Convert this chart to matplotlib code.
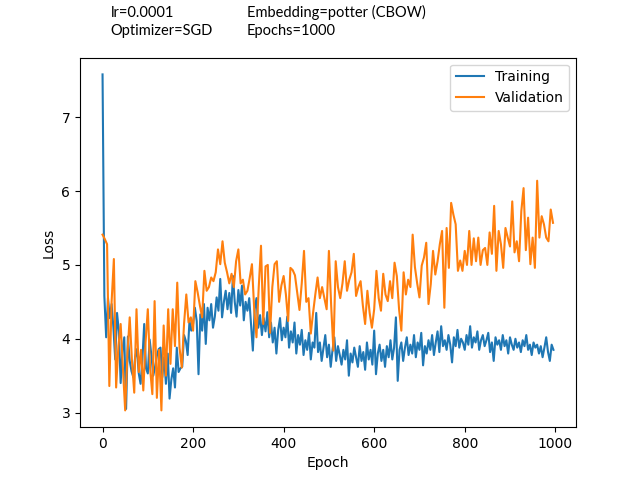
import numpy as np
import matplotlib
matplotlib.use("Agg")
import matplotlib.pyplot as plt

# ---- data ----
train_epochs = np.arange(0, 1000, 4)
train_loss = [
    7.58, 4.58, 4.02, 4.55, 4.28, 4.47, 4.15, 3.72, 4.35, 4.10,
    3.40, 3.85, 4.02, 3.05, 4.03, 3.70, 3.56, 3.48, 3.75, 3.86,
    3.53, 3.39, 3.72, 4.20, 3.60, 3.53, 3.99, 3.77, 3.50, 3.62,
    3.77, 3.86, 3.88, 3.48, 3.75, 3.39, 3.80, 3.19, 3.45, 3.60,
    3.34, 3.88, 3.55, 3.60, 3.62, 4.05, 3.97, 3.78, 4.24, 4.11,
    4.20, 4.42, 4.24, 3.52, 4.33, 4.11, 4.47, 3.93, 4.42, 4.25,
    4.47, 4.15, 4.30, 4.56, 4.38, 4.81, 4.29, 4.50, 4.65, 4.40,
    4.62, 4.35, 4.85, 4.50, 4.30, 4.66, 4.45, 4.72, 4.25, 4.50,
    4.38, 4.55, 4.20, 3.84, 4.40, 4.55, 4.15, 4.32, 4.05, 4.28,
    4.10, 4.36, 4.02, 4.22, 3.95, 4.15, 3.80, 4.12, 4.28, 3.98,
    4.15, 4.02, 4.30, 3.88, 4.10, 3.95, 4.22, 3.80, 4.05, 3.92,
    4.12, 3.78, 3.98, 3.85, 4.08, 3.72, 3.95, 3.88, 4.35, 3.82,
    3.95, 3.70, 3.88, 4.05, 3.75, 3.92, 3.62, 3.85, 4.02, 3.70,
    3.90, 3.78, 3.65, 3.85, 3.72, 3.98, 3.50, 3.80, 3.68, 3.88,
    3.75, 3.62, 3.90, 3.70, 3.82, 3.58, 3.95, 3.72, 3.85, 3.65,
    4.11, 3.52, 3.80, 3.92, 3.70, 3.85, 3.62, 3.90, 3.75, 3.98,
    3.72, 3.88, 4.29, 3.43, 3.85, 3.95, 3.70, 3.88, 4.02, 3.78,
    3.92, 3.80, 4.05, 3.75, 3.95, 3.85, 4.08, 3.64, 3.90, 3.80,
    3.98, 3.85, 4.05, 3.78, 3.95, 4.10, 3.82, 4.17, 3.90, 3.98,
    3.85, 4.05, 3.92, 3.68, 4.02, 3.90, 4.12, 3.88, 4.00, 3.95,
    3.85, 4.05, 3.92, 4.17, 3.88, 4.02, 3.95, 4.10, 3.85, 3.98,
    4.05, 3.90, 3.98, 4.08, 3.82, 3.95, 3.70, 4.02, 3.92, 3.98,
    3.85, 4.05, 3.90, 3.98, 3.80, 4.02, 3.92, 3.85, 4.00, 3.88,
    3.95, 3.82, 3.98, 3.90, 4.05, 3.85, 3.92, 3.78, 3.95, 3.88,
    3.92, 3.80, 3.90, 3.75, 3.88, 4.02, 3.82, 3.70, 3.92, 3.85,
]

val_epochs = np.arange(0, 1000, 5)
val_loss = [
    5.41, 5.35, 5.28, 3.36, 4.50, 5.08, 3.34, 3.90, 4.20, 3.60,
    3.03, 3.80, 4.29, 3.70, 3.27, 4.40, 3.55, 3.85, 3.30, 3.95,
    4.40, 3.60, 3.25, 4.51, 3.20, 3.85, 3.03, 4.18, 3.50, 4.40,
    3.66, 4.40, 3.90, 4.76, 3.88, 3.61, 4.20, 4.60, 4.22, 4.29,
    4.11, 4.78, 4.63, 4.45, 4.29, 4.92, 4.65, 4.70, 4.83, 4.78,
    4.90, 5.21, 5.01, 5.32, 5.03, 4.90, 4.75, 4.88, 4.70, 5.05,
    5.21, 4.75, 4.80, 4.60, 4.65, 4.82, 5.01, 4.40, 4.02, 4.70,
    5.26, 4.20, 4.98, 5.00, 4.08, 4.70, 5.01, 5.05, 4.50, 4.72,
    4.85, 4.60, 4.24, 4.96, 4.93, 4.86, 4.62, 4.39, 4.75, 5.19,
    4.50, 4.55, 4.07, 4.35, 4.60, 4.83, 4.55, 4.70, 4.55, 4.40,
    5.19, 4.45, 3.84, 5.05, 4.70, 4.55, 4.75, 5.05, 4.65, 4.80,
    4.90, 5.15, 4.58, 4.70, 4.78, 4.45, 4.20, 4.65, 4.35, 4.15,
    4.40, 4.92, 4.55, 4.38, 4.88, 4.60, 4.51, 4.78, 4.55, 5.03,
    4.85, 4.40, 4.11, 4.90, 4.60, 4.80, 4.70, 5.41, 4.97, 4.75,
    4.56, 4.99, 5.10, 5.30, 4.47, 4.74, 5.19, 4.87, 5.05, 5.28,
    5.46, 4.42, 5.50, 4.96, 5.84, 5.68, 5.55, 4.92, 5.06, 4.92,
    5.19, 5.00, 5.46, 5.00, 5.36, 5.05, 5.37, 5.00, 5.20, 5.23,
    5.00, 5.44, 5.15, 5.80, 4.92, 5.46, 5.28, 4.96, 5.50, 5.37,
    5.25, 5.86, 5.17, 5.32, 5.05, 5.73, 6.04, 5.20, 5.64, 5.01,
    5.37, 4.96, 6.14, 5.37, 5.66, 5.55, 5.37, 5.32, 5.75, 5.57,
]

header_left = ["lr=0.0001", "Optimizer=SGD"]
header_right = ["Embedding=potter (CBOW)", "Epochs=1000"]

# ---- plot ----
fig, ax = plt.subplots(figsize=(6.4, 4.8), dpi=100)
ax.plot(train_epochs, train_loss, label="Training")
ax.plot(val_epochs, val_loss, label="Validation")
ax.set_xlabel("Epoch")
ax.set_ylabel("Loss")
ax.legend(loc="upper right")

head_font = ["Lato", "DejaVu Sans"]
for i, (l, r) in enumerate(zip(header_left, header_right)):
    y = 0.973 - i * 0.037
    fig.text(0.173, y, l, fontsize=10.5, family=head_font, va="center")
    fig.text(0.386, y, r, fontsize=10.5, family=head_font, va="center")

fig.savefig("out.png", dpi=100)
